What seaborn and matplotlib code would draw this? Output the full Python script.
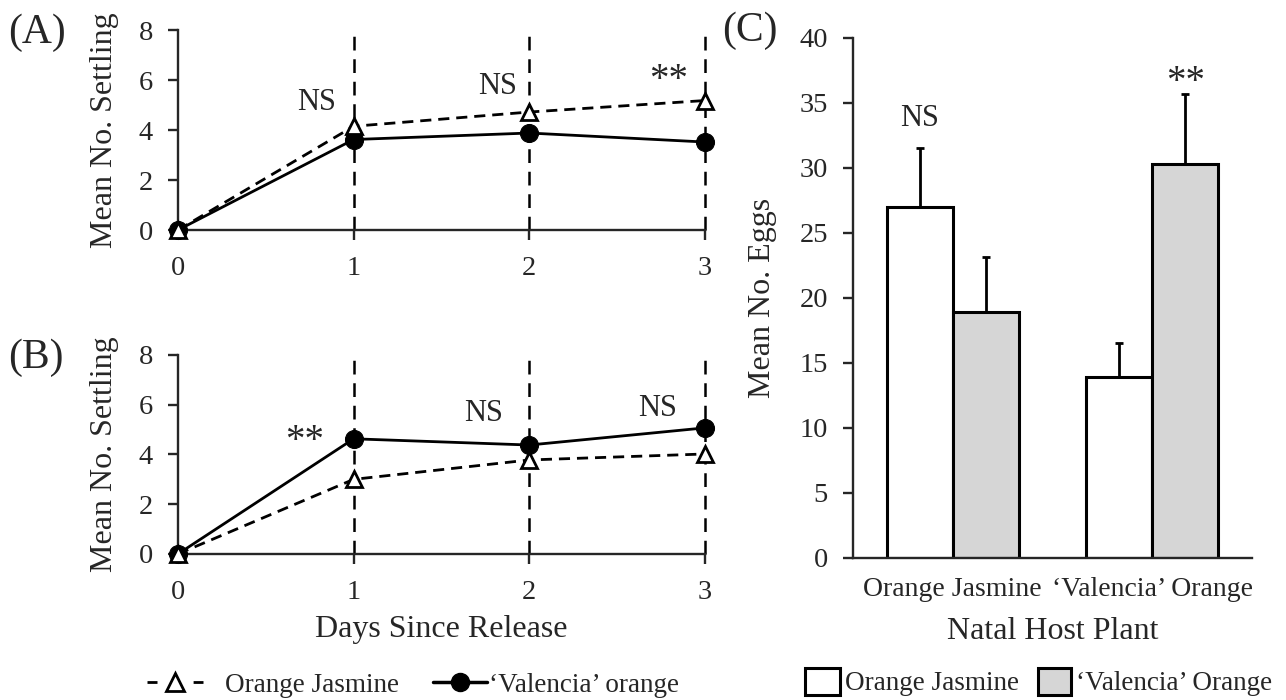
import numpy as np
import pandas as pd
import matplotlib
matplotlib.use("Agg")
import matplotlib.pyplot as plt
import seaborn as sns
from matplotlib.lines import Line2D
from matplotlib.patches import Patch

# ---------------- data ----------------
days = [0, 1, 2, 3]
a_jasmine = [0.0, 4.15, 4.72, 5.18]
a_valencia = [0.0, 3.62, 3.88, 3.52]
b_jasmine = [0.0, 3.0, 3.78, 4.02]
b_valencia = [0.0, 4.63, 4.38, 5.07]
a_signif = ["NS", "NS", "**"]
b_signif = ["**", "NS", "NS"]
line_names = ["Orange Jasmine", "\u2018Valencia\u2019 orange"]

natal_hosts = ["Orange Jasmine", "\u2018Valencia\u2019 Orange"]
bar_names = ["Orange Jasmine", "\u2018Valencia\u2019 Orange"]
eggs_jasmine = [27.0, 13.9]
eggs_valencia = [18.95, 30.3]
err_jasmine = [4.5, 2.6]
err_valencia = [4.2, 5.4]
c_signif = ["NS", "**"]

# ---------------- style ----------------
sns.set_style("ticks")
plt.rcParams["font.family"] = ["Liberation Serif", "DejaVu Serif"]
plt.rcParams["font.size"] = 20
plt.rcParams["axes.linewidth"] = 1.7

LABEL_FS = 23
TICK_FS = 20.5
NS_FS = 22
STAR_FS = 28

fig = plt.figure(figsize=(12.86, 7.0), dpi=100)
axA = fig.add_axes([0.1384, 0.6714, 0.4098, 0.2857])
axB = fig.add_axes([0.1384, 0.2086, 0.4098, 0.2843])
axC = fig.add_axes([0.6633, 0.2029, 0.3103, 0.7429])

dash_style = (0, (4, 2.5))


def line_panel(ax, jas, val, signif, ann_pos):
    ax.vlines(days[1:], 0, 8, colors="black", linestyles=(0, (5.5, 3.5)),
              lw=1.8, zorder=1, clip_on=False)
    sns.lineplot(x=days, y=val, ax=ax, color="black", lw=2.0, marker="o",
                 markersize=13, markeredgecolor="black", clip_on=False,
                 zorder=3)
    sns.lineplot(x=days, y=jas, ax=ax, color="black", lw=2.0,
                 linestyle=dash_style, marker="^", markersize=12,
                 markerfacecolor="white", markeredgecolor="black",
                 markeredgewidth=2, clip_on=False, zorder=4)
    ax.set_xlim(0, 3)
    ax.set_ylim(0, 8)
    ax.set_xticks(days)
    ax.set_yticks([0, 2, 4, 6, 8])
    sns.despine(ax=ax)
    ax.tick_params(axis="both", labelsize=TICK_FS, length=7, width=1.7,
                   direction="out")
    ax.tick_params(axis="y", pad=11)
    ax.tick_params(axis="x", pad=12)
    ax.set_ylabel("Mean No. Settling", fontsize=LABEL_FS)
    ax.yaxis.set_label_coords(-0.112, 0.5)
    ax.set_xlabel("")
    for s, (x, y) in zip(signif, ann_pos):
        fs = STAR_FS if s == "**" else NS_FS
        ax.text(x, y, s, ha="center", va="center", fontsize=fs)


line_panel(axA, a_jasmine, a_valencia, a_signif,
           [(0.79, 5.1), (1.82, 5.75), (2.79, 6.0)])
line_panel(axB, b_jasmine, b_valencia, b_signif,
           [(0.72, 4.54), (1.74, 5.66), (2.73, 5.86)])
axB.set_xlabel("Days Since Release", fontsize=LABEL_FS)
axB.xaxis.set_label_coords(0.5, -0.305)

# ---------------- panel C ----------------
dfc = pd.DataFrame({
    "natal": natal_hosts * 2,
    "eggs": eggs_jasmine + eggs_valencia,
    "tested": [bar_names[0]] * 2 + [bar_names[1]] * 2,
})
sns.barplot(data=dfc, x="natal", y="eggs", hue="tested",
            palette=["white", "#d6d6d6"], edgecolor="black", linewidth=2.2,
            width=0.66, gap=0, errorbar=None, ax=axC, legend=False,
            zorder=2)
errs = err_jasmine + err_valencia
for p, e in zip(axC.patches, errs):
    xc = p.get_x() + p.get_width() / 2
    h = p.get_height()
    axC.errorbar(xc, h, yerr=[[0], [e]], fmt="none", ecolor="black",
                 elinewidth=2, capsize=3, capthick=2, zorder=1)
ann_bars = [axC.patches[0], axC.patches[3]]
ann_y = [33.8, 36.6]
for s, p, y in zip(c_signif, ann_bars, ann_y):
    fs = STAR_FS if s == "**" else NS_FS
    axC.text(p.get_x() + p.get_width() / 2, y, s, ha="center", va="center",
             fontsize=fs)
axC.set_xlim(-0.5, 1.5)
axC.set_ylim(0, 40)
axC.set_yticks(np.arange(0, 41, 5))
sns.despine(ax=axC)
axC.tick_params(axis="y", labelsize=TICK_FS, length=7, width=1.7, pad=11)
axC.tick_params(axis="x", labelsize=20, length=0, pad=14)
axC.set_xlabel("Natal Host Plant", fontsize=LABEL_FS)
axC.xaxis.set_label_coords(0.5, -0.113)
axC.set_ylabel("Mean No. Eggs", fontsize=LABEL_FS)
axC.yaxis.set_label_coords(-0.19, 0.5)

# ---------------- panel letters ----------------
fig.text(8 / 1286, 1 - 33 / 700, "(A)", fontsize=30, va="center", ha="left")
fig.text(8 / 1286, 1 - 358 / 700, "(B)", fontsize=30, va="center", ha="left")
fig.text(722 / 1286, 1 - 31 / 700, "(C)", fontsize=30, va="center", ha="left")

# ---------------- legends ----------------
h_jas = Line2D([], [], color="black", lw=2, ls=(0, (3.6, 13)), marker="^",
               ms=13, mfc="white", mec="black", mew=2)
h_val = Line2D([], [], color="black", lw=2.5, marker="o", ms=13)
common = dict(frameon=False, borderaxespad=0, borderpad=0, fontsize=19.5,
              loc="center left")
fig.legend([h_jas], [line_names[0]], bbox_to_anchor=(147 / 1286, 1 - 685 / 700),
           handlelength=2.07, handletextpad=0.8, **common)
fig.legend([h_val], [line_names[1]], bbox_to_anchor=(433 / 1286, 1 - 685 / 700),
           handlelength=2.0, handletextpad=0.05, **common)
p_jas = Patch(facecolor="white", edgecolor="black", lw=2.2)
p_val = Patch(facecolor="#d6d6d6", edgecolor="black", lw=2.2)
fig.legend([p_jas], [bar_names[0]], bbox_to_anchor=(805 / 1286, 1 - 682 / 700),
           handlelength=1.3, handleheight=1.15, handletextpad=0.19, **common)
fig.legend([p_val], [bar_names[1]], bbox_to_anchor=(1038 / 1286, 1 - 682 / 700),
           handlelength=1.2, handleheight=1.15, handletextpad=0.19, **common)

fig.savefig("out.png", dpi=100)
